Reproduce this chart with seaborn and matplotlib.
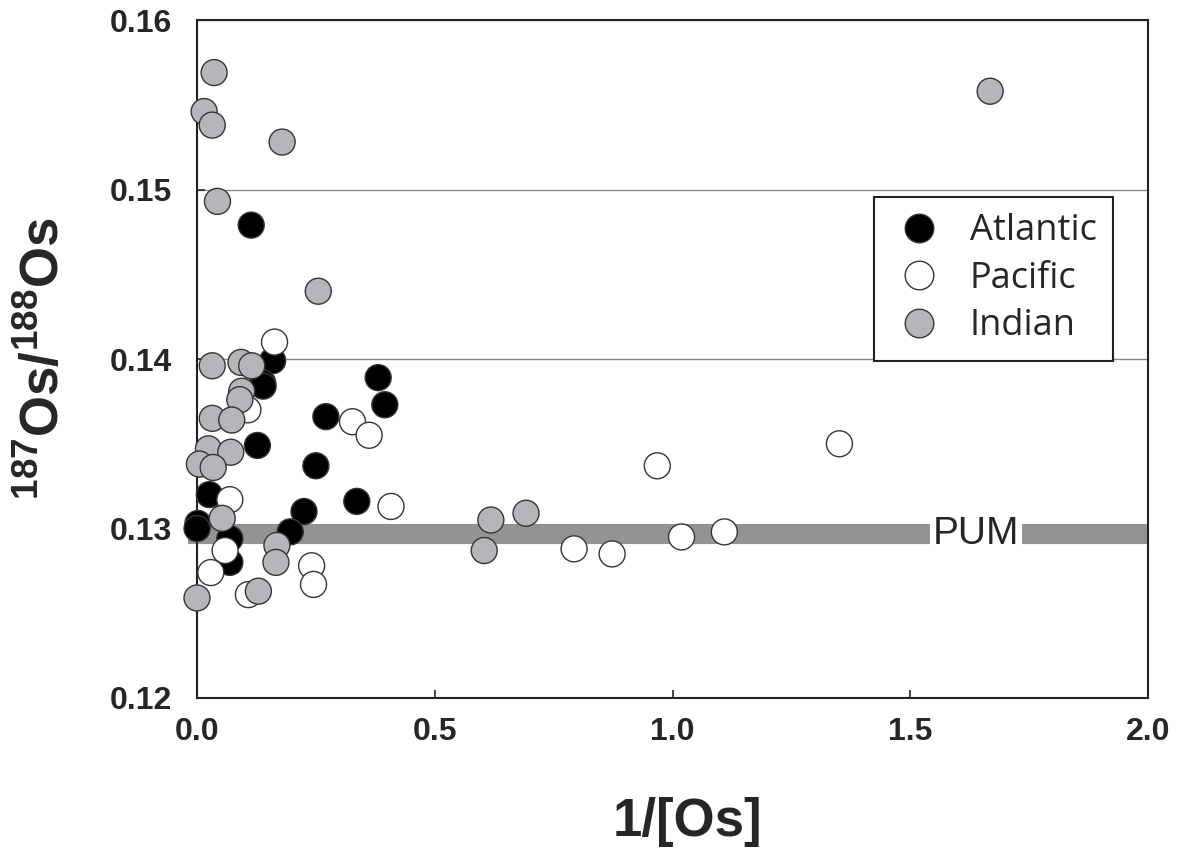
import numpy as np
import pandas as pd
import matplotlib
matplotlib.use("Agg")
import matplotlib.pyplot as plt
import seaborn as sns

# 1/[Os] and 187Os/188Os, per ocean
atlantic_x = [0.114, 0.159, 0.381, 0.395, 0.138, 0.139, 0.271, 0.127, 0.250,
              0.026, 0.336, 0.225, 0.002, 0.000, 0.196, 0.069, 0.069]
atlantic_y = [0.1479, 0.1399, 0.1389, 0.1373, 0.1386, 0.1384, 0.1366, 0.1349, 0.1337,
              0.1320, 0.1316, 0.1310, 0.1303, 0.1300, 0.1298, 0.1294, 0.1280]

pacific_x = [0.163, 0.107, 0.327, 0.362, 0.069, 0.408, 0.059, 0.241, 0.029,
             0.245, 0.108, 0.793, 0.873, 0.968, 1.019, 1.109, 1.351]
pacific_y = [0.1410, 0.1370, 0.1363, 0.1355, 0.1317, 0.1313, 0.1287, 0.1278, 0.1274,
             0.1267, 0.1261, 0.1288, 0.1285, 0.1337, 0.1295, 0.1298, 0.1350]

indian_x = [0.036, 0.015, 0.032, 0.179, 0.043, 1.668, 0.255, 0.032, 0.0925,
            0.115, 0.094, 0.090, 0.032, 0.073, 0.024, 0.071, 0.005, 0.034,
            0.053, 0.168, 0.166, 0.129, 0.000, 0.618, 0.692, 0.604]
indian_y = [0.1569, 0.1546, 0.1538, 0.1528, 0.1493, 0.1558, 0.1440, 0.1396, 0.1398,
            0.1396, 0.1381, 0.1376, 0.1365, 0.1364, 0.1347, 0.1345, 0.1338, 0.1336,
            0.1306, 0.1290, 0.1280, 0.1263, 0.1259, 0.1305, 0.1309, 0.1287]

oceans = ["Atlantic", "Pacific", "Indian"]
colors = {"Atlantic": "#000000", "Pacific": "#ffffff", "Indian": "#b5b6ba"}

pum_value = 0.12965
x_ticks = [0.0, 0.5, 1.0, 1.5, 2.0]
y_ticks = [0.12, 0.13, 0.14, 0.15, 0.16]

df = pd.concat([
    pd.DataFrame({"x": atlantic_x, "y": atlantic_y, "ocean": "Atlantic"}),
    pd.DataFrame({"x": pacific_x, "y": pacific_y, "ocean": "Pacific"}),
    pd.DataFrame({"x": indian_x, "y": indian_y, "ocean": "Indian"}),
], ignore_index=True)

sns.set_style("ticks")
plt.rcParams["font.family"] = ["Liberation Sans", "DejaVu Sans"]
plt.rcParams["mathtext.fontset"] = "custom"
plt.rcParams["mathtext.rm"] = "Liberation Sans"
plt.rcParams["mathtext.bf"] = "Liberation Sans:bold"

fig = plt.figure(figsize=(11.84, 8.6), dpi=100)
ax = fig.add_axes([0.1664, 0.1884, 0.9696 - 0.1664, 0.9767 - 0.1884])

# horizontal grid at the y ticks
ax.yaxis.grid(True, color="#8a8a8a", linewidth=1.0, zorder=0)
ax.set_axisbelow(True)

# primitive upper mantle band
ax.axhline(pum_value, xmin=-0.009, xmax=1, color="#939393", linewidth=14.5,
           solid_capstyle="butt", clip_on=False, zorder=1)
ax.text(1.638, pum_value, "PUM", fontsize=28, ha="center", va="center", zorder=2,
        bbox=dict(boxstyle="square,pad=0.08", facecolor="white", edgecolor="none"))

sns.scatterplot(data=df, x="x", y="y", hue="ocean", hue_order=oceans, palette=colors,
                s=350, edgecolor="#353535", linewidth=1.0, ax=ax, zorder=3, clip_on=False)

ax.set_xlim(0, 2.0)
ax.set_ylim(0.12, 0.16)
ax.set_xticks(x_ticks)
ax.set_yticks(y_ticks)
ax.set_xticklabels([f"{t:.1f}" for t in x_ticks])
ax.set_yticklabels([f"{t:.2f}" for t in y_ticks])
ax.tick_params(direction="in", length=6, width=1.2, labelsize=23)
ax.tick_params(axis="y", pad=18)
ax.tick_params(axis="x", pad=14)
for lab in ax.get_xticklabels() + ax.get_yticklabels():
    lab.set_fontweight("bold")
for sp in ax.spines.values():
    sp.set_visible(True)
    sp.set_linewidth(1.5)
    sp.set_color("#222222")

ax.set_xlabel("1/[Os]", fontsize=38, fontweight="bold")
ax.set_ylabel(r"$^{\mathregular{187}}$Os/$^{\mathregular{188}}$Os", fontsize=38, fontweight="bold")
ax.xaxis.set_label_coords(0.516, -0.146)
ax.yaxis.set_label_coords(-0.134, 0.5)

handles, labels = ax.get_legend_handles_labels()
leg = ax.legend(handles, labels, loc="upper left", bbox_to_anchor=(0.712, 0.739),
                frameon=True, fancybox=False, edgecolor="#222222", framealpha=1,
                prop={"family": "Open Sans", "size": 26}, handletextpad=0.6,
                borderpad=0.45, labelspacing=0.32, handlelength=1.6, borderaxespad=0,
                markerscale=1.1)
leg.get_frame().set_linewidth(1.5)

fig.savefig("out.png", dpi=100)
